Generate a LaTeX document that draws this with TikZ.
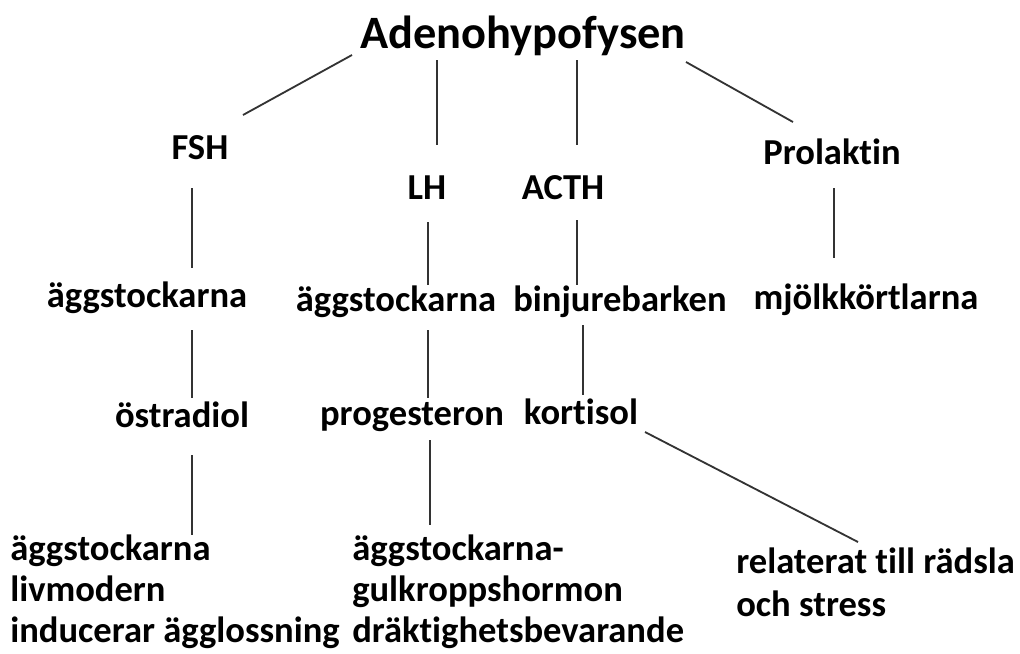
\documentclass[tikz,border=0pt]{standalone}
\usepackage{fontspec}
\setmainfont{Carlito}[Ligatures={NoCommon}]
\usetikzlibrary{calc}
\tikzset{
  title/.style={font=\bfseries\fontsize{33}{36}\selectfont, inner sep=0pt},
  hormone/.style={font=\bfseries\fontsize{26}{29}\selectfont, inner sep=0pt},
  effect/.style={hormone, align=left, anchor=north west},
  link/.style={line width=1.3pt, draw=black!80}
}
\begin{document}
\begin{tikzpicture}[x=0.025cm, y=-0.025cm]
    \useasboundingbox (0,0) rectangle (1020,653);

    \node (adeno) [title] at (523,36) {Adenohypofysen};

    \node (fsh) [hormone] at (200,148) {FSH};
    \node (lh) [hormone] at (427,188) {LH};
    \node (acth) [hormone] at (563,188) {ACTH};
    \node (prol) [hormone] at (832,152) {Prolaktin};

    \node (egg1) [hormone] at (147,298) {äggstockarna};
    \node (egg2) [hormone] at (396,302) {äggstockarna};
    \node (binj) [hormone] at (620,302) {binjurebarken};
    \node (mjolk) [hormone] at (866,300) {mjölkkörtlarna};

    \node (ostr) [hormone] at (182,415) {östradiol};
    \node (prog) [hormone] at (412,417) {progesteron};
    \node (kort) [hormone] at (581,412) {kortisol};

    \node (eff1) [effect] at (10,535) {äggstockarna\\livmodern\\inducerar ägglossning};
    \node (eff2) [effect] at (352,535) {äggstockarna-\\gulkroppshormon\\dräktighetsbevarande};
    \node (eff3) [effect, font=\bfseries\fontsize{26}{30}\selectfont] at (736,548) {relaterat till rädsla\\och stress};

    % hormoner
    \draw [link] ($(adeno)+(-171,19)$) -- ($(fsh)+(43,-33)$);
    \draw [link] ($(adeno)+(-86,24)$) -- ($(lh)+(10,-43)$);
    \draw [link] ($(adeno)+(54,24)$) -- ($(acth)+(14,-43)$);
    \draw [link] ($(adeno)+(163,26)$) -- ($(prol)+(-39,-30)$);

    % målorgan
    \draw [link] ($(fsh)+(-8,40)$) -- ($(egg1)+(45,-30)$);
    \draw [link] ($(lh)+(1,34)$) -- ($(egg2)+(32,-17)$);
    \draw [link] ($(acth)+(14,32)$) -- ($(binj)+(-43,-17)$);
    \draw [link] ($(prol)+(2,36)$) -- ($(mjolk)+(-32,-42)$);

    % produkter
    \draw [link] ($(egg1)+(45,32)$) -- ($(ostr)+(10,-17)$);
    \draw [link] ($(egg2)+(32,28)$) -- ($(prog)+(16,-19)$);
    \draw [link] ($(binj)+(-37,23)$) -- ($(kort)+(2,-17)$);

    % verkan
    \draw [link] ($(ostr)+(10,40)$) -- ($(eff1.north west)+(182,0)$);
    \draw [link] ($(prog)+(18,23)$) -- ($(eff2.north west)+(78,-10)$);
    \draw [link] ($(kort)+(64,20)$) -- ($(eff3.north west)+(122,-6)$);

\end{tikzpicture}
\end{document}
